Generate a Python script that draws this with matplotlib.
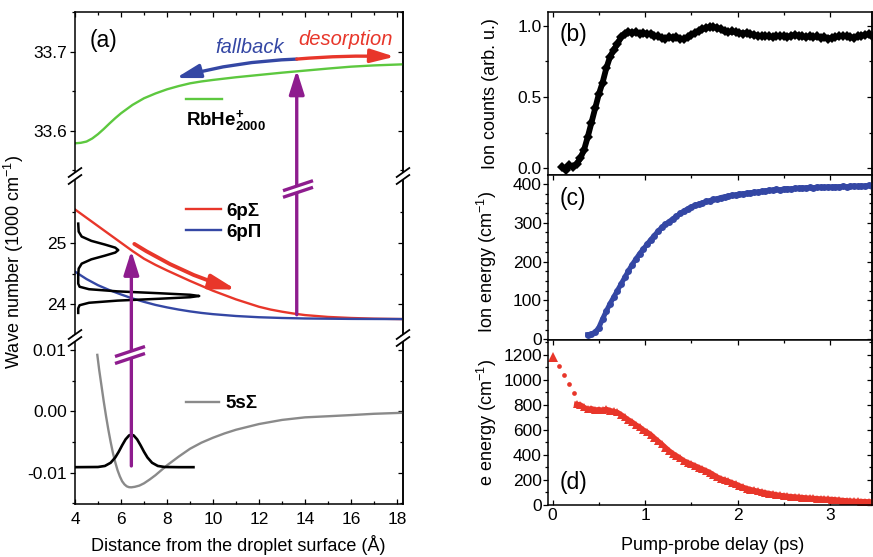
import numpy as np
import matplotlib
matplotlib.use("Agg")
import matplotlib.pyplot as plt
from matplotlib.lines import Line2D
from matplotlib.patches import ConnectionPatch, FancyArrowPatch, Polygon
from matplotlib.ticker import MultipleLocator, FixedLocator, FormatStrFormatter

plt.rcParams["font.family"] = ["Liberation Sans", "DejaVu Sans"]
plt.rcParams["axes.unicode_minus"] = False
plt.rcParams["mathtext.fontset"] = "custom"
plt.rcParams["mathtext.rm"] = "Liberation Sans"
plt.rcParams["mathtext.it"] = "Liberation Sans:italic"
plt.rcParams["mathtext.bf"] = "Liberation Sans:bold"

W, H = 873, 557

GREEN = "#5DC83F"
RED = "#E8362A"
BLUE = "#3447A4"
GRAY = "#8A8A8A"
PURPLE = "#8E1C8E"

# ---- panel (a): potential curves vs distance from surface (Angstrom) ----
R_RBHE = [4.0, 4.25, 4.5, 4.75, 5.0, 5.25, 5.5, 5.75, 6.0, 6.5, 7.0, 7.5, 8.0, 8.5,
          9.0, 9.5, 10.0, 11.0, 12.0, 13.0, 14.0, 15.0, 16.0, 17.0, 18.3]
E_RBHE = [33.5844, 33.5850, 33.5866, 33.5905, 33.5960, 33.6025, 33.6095, 33.6162,
          33.6224, 33.6330, 33.6414, 33.6475, 33.6527, 33.6568, 33.6603, 33.6627,
          33.6646, 33.6680, 33.6709, 33.6738, 33.6764, 33.6790, 33.6814, 33.6830, 33.6844]

R_6PS = [4.0, 4.5, 5.0, 5.5, 6.0, 6.5, 7.0, 7.5, 8.0, 8.5, 9.0, 9.5, 10.0, 10.5, 11.0,
         11.5, 12.0, 12.5, 13.0, 13.5, 14.0, 15.0, 16.0, 17.0, 18.3]
E_6PS = [25.54, 25.405, 25.27, 25.135, 25.00, 24.865, 24.74, 24.64, 24.55, 24.465,
         24.38, 24.30, 24.22, 24.15, 24.08, 24.02, 23.96, 23.915, 23.88, 23.85, 23.825,
         23.795, 23.778, 23.767, 23.76]

R_6PP = [4.0, 4.5, 5.0, 5.5, 6.0, 6.5, 7.0, 7.5, 8.0, 8.5, 9.0, 9.5, 10.0, 11.0, 12.0,
         13.0, 14.0, 16.0, 18.3]
E_6PP = [24.53, 24.41, 24.31, 24.23, 24.16, 24.095, 24.04, 23.99, 23.95, 23.915, 23.885,
         23.86, 23.84, 23.81, 23.79, 23.778, 23.77, 23.763, 23.76]

R_5SS = [4.97, 5.05, 5.15, 5.25, 5.35, 5.45, 5.55, 5.65, 5.75, 5.85, 5.95, 6.05, 6.15,
         6.25, 6.35, 6.45, 6.6, 6.8, 7.0, 7.25, 7.5, 7.75, 8.0, 8.5, 9.0, 9.5, 10.0,
         10.5, 11.0, 12.0, 13.0, 14.0, 15.0, 16.0, 17.0, 18.3]
E_5SS = [0.0092, 0.0068, 0.0042, 0.0016, -0.0008, -0.0030, -0.0050, -0.0068, -0.0083,
         -0.0096, -0.0106, -0.0114, -0.0119, -0.01222, -0.01236, -0.01238, -0.0123,
         -0.0121, -0.01173, -0.0111, -0.0104, -0.0096, -0.0088, -0.0074, -0.0061,
         -0.0051, -0.0043, -0.0036, -0.0030, -0.00207, -0.0014, -0.00098, -0.0008,
         -0.00061, -0.0004, -0.00023]

# ground-state wave packet on the 5s curve
R_WP = [4.0, 5.0, 5.3, 5.55, 5.75, 5.9, 6.05, 6.2, 6.35, 6.45, 6.55, 6.7, 6.85, 7.0,
        7.15, 7.35, 7.6, 7.9, 8.5, 9.15]
E_WP = [-0.0091, -0.00907, -0.0089, -0.00838, -0.00752, -0.00659, -0.00553, -0.00456,
        -0.00393, -0.0038, -0.00393, -0.00456, -0.00553, -0.00659, -0.00752, -0.00838,
        -0.0089, -0.00907, -0.0091, -0.0091]

# excitation spectrum drawn along the energy axis
E_ABS = [25.31, 25.18, 25.10, 25.03, 24.97, 24.92, 24.88, 24.84, 24.79, 24.73, 24.66,
         24.58, 24.48, 24.335, 24.285, 24.245, 24.21, 24.18, 24.155, 24.135, 24.115,
         24.09, 24.06, 24.025, 23.985, 23.935, 23.86]
R_ABS = [4.14, 4.16, 4.29, 4.71, 5.30, 5.75, 5.88, 5.75, 5.30, 4.71, 4.29, 4.16, 4.14,
         4.14, 4.20, 4.61, 5.85, 7.65, 9.0, 9.40, 9.0, 7.65, 5.85, 4.61, 4.20, 4.14, 4.14]

# ---- panels (b)-(d): pump-probe transients ----
DELAY_STEP = 0.04

ION_COUNTS_T0 = 0.10
ION_COUNTS = [
    0.01, -0.01, 0.02, 0.01, 0.03, 0.07, 0.13, 0.22, 0.32, 0.42,
    0.52, 0.60, 0.70, 0.78, 0.83, 0.87, 0.92, 0.945, 0.955, 0.95,
    0.955, 0.945, 0.95, 0.94, 0.945, 0.93, 0.925, 0.915, 0.91, 0.92,
    0.915, 0.92, 0.91, 0.905, 0.92, 0.935, 0.95, 0.965, 0.975, 0.985,
    0.99, 0.99, 0.985, 0.975, 0.96, 0.955, 0.96, 0.955, 0.95, 0.945,
    0.95, 0.94, 0.935, 0.93, 0.925, 0.93, 0.925, 0.92, 0.925, 0.93,
    0.925, 0.92, 0.93, 0.935, 0.93, 0.925, 0.92, 0.925, 0.92, 0.925,
    0.915, 0.92, 0.91, 0.915, 0.92, 0.925, 0.93, 0.925, 0.92, 0.915,
    0.925, 0.93, 0.935, 0.94, 0.93,
]

ION_ENERGY_T0 = 0.38
ION_ENERGY = [
    12, 13, 18, 30, 52, 72, 91, 108, 125, 142,
    159, 176, 192, 206, 220, 232, 244, 256, 267, 278,
    288, 296, 303, 310, 317, 324, 330, 336, 341, 345,
    348, 351, 355, 357, 360, 362, 365, 367, 369, 371,
    372, 374, 375, 376, 377, 379, 379, 381, 382, 384,
    384, 386, 385, 387, 388, 387, 389, 389, 390, 390,
    391, 390, 392, 392, 391, 393, 392, 393, 393, 394,
    393, 394, 395, 394, 395, 395, 396, 395,
]

E_ENERGY_EARLY_T = [0.0, 0.068, 0.122, 0.176, 0.233]
E_ENERGY_EARLY = [1185, 1110, 1040, 966, 896]
E_ENERGY_T0 = 0.26
E_ENERGY = [
    805, 800, 780, 765, 770, 760, 762, 758, 765, 755,
    748, 740, 722, 700, 680, 662, 640, 622, 600, 582,
    562, 535, 510, 485, 458, 432, 410, 392, 372, 352,
    338, 325, 312, 298, 285, 272, 258, 240, 222, 208,
    198, 188, 176, 165, 152, 140, 130, 122, 115, 108,
    102, 96, 90, 85, 80, 75, 72, 68, 65, 63,
    60, 58, 55, 53, 51, 49, 47, 45, 44, 42,
    40, 37, 34, 32, 30, 28, 27, 26, 25, 24,
    23,
]


def rect(x0, y0, x1, y1):
    # pixel box (y down) -> figure fraction
    return [x0 / W, 1 - y1 / H, (x1 - x0) / W, (y1 - y0) / H]


def fig_xy(x, y):
    return x / W, 1 - y / H


def break_mark(fig, xc, yc, color, half_w=7, rise=10, gap=7, lw=1.3):
    # two parallel slashes with a white gap between them
    xs = [xc - half_w, xc + half_w]
    top = [yc - gap / 2 + rise / 2, yc - gap / 2 - rise / 2]
    bot = [yc + gap / 2 + rise / 2, yc + gap / 2 - rise / 2]
    poly = [fig_xy(xs[0], top[0]), fig_xy(xs[1], top[1]),
            fig_xy(xs[1], bot[1]), fig_xy(xs[0], bot[0])]
    fig.add_artist(Polygon(poly, closed=True, transform=fig.transFigure,
                           facecolor="white", edgecolor="none", zorder=5))
    for ys in (top, bot):
        p0 = fig_xy(xs[0], ys[0])
        p1 = fig_xy(xs[1], ys[1])
        fig.add_artist(Line2D([p0[0], p1[0]], [p0[1], p1[1]], transform=fig.transFigure,
                              color=color, lw=lw, zorder=6, solid_capstyle="butt"))


def style_y(ax, major, minor, fmt, pad):
    for axis in (ax.yaxis,):
        axis.set_major_locator(FixedLocator(major) if isinstance(major, list) else MultipleLocator(major))
        axis.set_minor_locator(FixedLocator(minor) if isinstance(minor, list) else MultipleLocator(minor))
    ax.yaxis.set_major_formatter(FormatStrFormatter(fmt))
    ax.tick_params(axis="y", which="both", direction="out", left=True, right=False, width=0.9)
    ax.tick_params(axis="y", which="major", length=3.6, labelsize=12.5, pad=pad)
    ax.tick_params(axis="y", which="minor", length=2.0)
    sec = ax.secondary_yaxis("right")
    sec.yaxis.set_major_locator(FixedLocator(major) if isinstance(major, list) else MultipleLocator(major))
    sec.yaxis.set_minor_locator(FixedLocator(minor) if isinstance(minor, list) else MultipleLocator(minor))
    sec.tick_params(axis="y", which="both", direction="in", width=0.9, labelright=False)
    sec.tick_params(axis="y", which="major", length=3.6)
    sec.tick_params(axis="y", which="minor", length=2.0)
    sec.spines["right"].set_linewidth(1.1)


def style_x(ax, major, minor, top, bottom, labels, pad=3):
    ax.xaxis.set_major_locator(MultipleLocator(major))
    ax.xaxis.set_minor_locator(MultipleLocator(minor))
    ax.tick_params(axis="x", which="both", direction="in", top=top, bottom=bottom,
                   labelbottom=labels, labeltop=False, width=0.9, labelsize=12.5, pad=pad)
    ax.tick_params(axis="x", which="major", length=3.6)
    ax.tick_params(axis="x", which="minor", length=2.0)


fig = plt.figure(figsize=(W / 100, H / 100), dpi=100)
fig.patch.set_facecolor("white")

# ================= panel (a): broken energy axis =================
ax_top = fig.add_axes(rect(75, 12, 403, 176))
ax_mid = fig.add_axes(rect(75, 176, 403, 338))
ax_bot = fig.add_axes(rect(75, 338, 403, 504))

for ax in (ax_top, ax_mid, ax_bot):
    ax.set_xlim(4, 18.26)
    for s in ax.spines.values():
        s.set_linewidth(1.1)
ax_top.spines["bottom"].set_visible(False)
ax_mid.spines["top"].set_visible(False)
ax_mid.spines["bottom"].set_visible(False)
ax_bot.spines["top"].set_visible(False)

ax_top.set_ylim(33.543, 33.7506)
ax_mid.set_ylim(23.453, 26.083)
ax_bot.set_ylim(-0.0151, 0.01195)

style_y(ax_top, 0.1, 0.05, "%.1f", 2.4)
style_y(ax_mid, [24, 25], [23.5, 24.5, 25.5], "%.0f", 2.4)
style_y(ax_bot, 0.01, 0.005, "%.2f", 2.4)
style_x(ax_top, 2, 1, True, False, False)
style_x(ax_mid, 2, 1, False, False, False)
style_x(ax_bot, 2, 1, False, True, True, pad=5.5)

ax_top.plot(R_RBHE, E_RBHE, color=GREEN, lw=1.7)
ax_mid.plot(R_6PS, E_6PS, color=RED, lw=1.7, label="6pΣ")
ax_mid.plot(R_6PP, E_6PP, color=BLUE, lw=1.7, label="6pΠ")
ax_mid.plot(R_ABS, E_ABS, color="black", lw=1.8)
ax_bot.plot(R_5SS, E_5SS, color=GRAY, lw=1.7, label="5sΣ")
ax_bot.plot(R_WP, E_WP, color="black", lw=1.9)

bold = {"weight": "bold", "size": 13.5}
ax_mid.legend(loc="upper left", bbox_to_anchor=(0.3375, 0.835), frameon=False,
              borderpad=0, borderaxespad=0, handlelength=1.9, handletextpad=0.25,
              labelspacing=0.2, prop=bold)
ax_bot.legend(loc="upper left", bbox_to_anchor=(0.3375, 0.655), frameon=False,
              borderpad=0, borderaxespad=0, handlelength=1.75, handletextpad=0.35,
              prop=bold)

# RbHe+ key: line above the label
ax_top.add_line(Line2D([0.3375, 0.448], [0.468, 0.468], transform=ax_top.transAxes,
                       color=GREEN, lw=1.7))
ax_top.text(0.3375, 0.311, r"$\mathbf{RbHe}^{\mathbf{+}}_{\mathbf{2000}}$",
            transform=ax_top.transAxes, fontsize=13.5, va="baseline", ha="left")

# fallback / desorption arrows along the ion curve
ax_top.add_patch(FancyArrowPatch((13.64, 33.691), (8.39, 33.667),
                                 arrowstyle="-|>,head_length=0.6,head_width=0.17",
                                 mutation_scale=24, color=BLUE, lw=2.4,
                                 connectionstyle="arc3,rad=0.06", shrinkA=0, shrinkB=0))
ax_top.add_patch(FancyArrowPatch((13.64, 33.691), (17.9, 33.694),
                                 arrowstyle="-|>,head_length=0.6,head_width=0.17",
                                 mutation_scale=24, color=RED, lw=2.4,
                                 connectionstyle="arc3,rad=-0.03", shrinkA=0, shrinkB=0))
ax_top.text(10.09, 33.6987, "fallback", color=BLUE, style="italic", fontsize=14.5,
            va="baseline", ha="left")
ax_top.text(13.70, 33.7089, "desorption", color=RED, style="italic", fontsize=14.5,
            va="baseline", ha="left")

# motion on the 6p Sigma curve
ax_mid.add_patch(FancyArrowPatch((6.58, 24.98), (11.0, 24.24),
                                 arrowstyle="-|>,head_length=0.6,head_width=0.17",
                                 mutation_scale=26, color=RED, lw=2.8,
                                 connectionstyle="arc3,rad=0.07", shrinkA=0, shrinkB=0))

# excitation / ionisation arrows crossing the axis breaks
for ax_a, xy_a, ax_b_, xy_b in [(ax_bot, (6.45, -0.0089), ax_mid, (6.45, 24.87)),
                                (ax_mid, (13.64, 23.83), ax_top, (13.64, 33.677))]:
    fig.add_artist(ConnectionPatch(xyA=xy_a, coordsA=ax_a.transData,
                                   xyB=xy_b, coordsB=ax_b_.transData,
                                   arrowstyle="-|>,head_length=0.6,head_width=0.19",
                                   mutation_scale=24, color=PURPLE, lw=2.4, zorder=4))
break_mark(fig, 298, 189, PURPLE, half_w=15, rise=10, gap=6.6, lw=2.4)
break_mark(fig, 130, 355, PURPLE, half_w=15, rise=10, gap=7, lw=2.4)

for xc in (75, 403):
    for yc in (176, 338):
        break_mark(fig, xc, yc, "black")

ax_top.text(0.046, 0.829, "(a)", transform=ax_top.transAxes, fontsize=16.5,
            va="center", ha="left")
fig.text(14 / W, 1 - 262 / H, "Wave number (1000 cm$^{-1}$)", rotation=90,
         ha="center", va="center", fontsize=13)
fig.text(238 / W, 1 - 545 / H, "Distance from the droplet surface (Å)",
         ha="center", va="center", fontsize=13)

# ================= panels (b)-(d) =================
ax_b = fig.add_axes(rect(548, 12, 872, 175))
ax_c = fig.add_axes(rect(548, 175, 872, 340))
ax_d = fig.add_axes(rect(548, 340, 872, 505))

for ax in (ax_b, ax_c, ax_d):
    ax.set_xlim(-0.05, 3.455)
    for s in ax.spines.values():
        s.set_linewidth(1.1)

ax_b.set_ylim(-0.047, 1.096)
ax_c.set_ylim(-2, 423)
ax_d.set_ylim(-2, 1320)

style_y(ax_b, 0.5, 0.25, "%.1f", 0.8)
style_y(ax_c, 100, 25, "%.0f", 0.8)
style_y(ax_d, 200, 100, "%.0f", 0.8)
style_x(ax_b, 1, 0.5, True, False, False)
style_x(ax_c, 1, 0.5, True, False, False)
style_x(ax_d, 1, 0.5, True, True, True, pad=2.5)

t_b = ION_COUNTS_T0 + DELAY_STEP * np.arange(len(ION_COUNTS))
t_c = ION_ENERGY_T0 + DELAY_STEP * np.arange(len(ION_ENERGY))
t_d = E_ENERGY_T0 + DELAY_STEP * np.arange(len(E_ENERGY))

ax_b.plot(t_b, ION_COUNTS, color="black", lw=4.2, marker="D", ms=5.2, mew=0)
ax_c.plot(t_c, ION_ENERGY, color=BLUE, lw=3.6, marker="o", ms=5.0, mew=0)
ax_d.plot(t_d, E_ENERGY, color=RED, lw=3.8, marker="^", ms=5.6, mew=0)
ax_d.plot(E_ENERGY_EARLY_T[1:], E_ENERGY_EARLY[1:], ls="none", marker="o", ms=3.4,
          mew=0, color=RED)
ax_d.plot(E_ENERGY_EARLY_T[:1], E_ENERGY_EARLY[:1], ls="none", marker="^", ms=7,
          mew=0, color=RED, clip_on=False)

ax_b.set_ylabel("Ion counts (arb. u.)", fontsize=13)
ax_c.set_ylabel("Ion energy (cm$^{-1}$)", fontsize=13)
ax_d.set_ylabel("e energy (cm$^{-1}$)", fontsize=13)
ax_b.yaxis.set_label_coords(-0.152, 0.5)
ax_c.yaxis.set_label_coords(-0.152, 0.473)
ax_d.yaxis.set_label_coords(-0.152, 0.5)

ax_b.text(0.037, 0.859, "(b)", transform=ax_b.transAxes, fontsize=16.5, va="center")
ax_c.text(0.037, 0.855, "(c)", transform=ax_c.transAxes, fontsize=16.5, va="center")
ax_d.text(0.037, 0.139, "(d)", transform=ax_d.transAxes, fontsize=16.5, va="center")
fig.text(713 / W, 1 - 546 / H, "Pump-probe delay (ps)", ha="center", va="center",
         fontsize=13)

fig.savefig("out.png", dpi=100)
